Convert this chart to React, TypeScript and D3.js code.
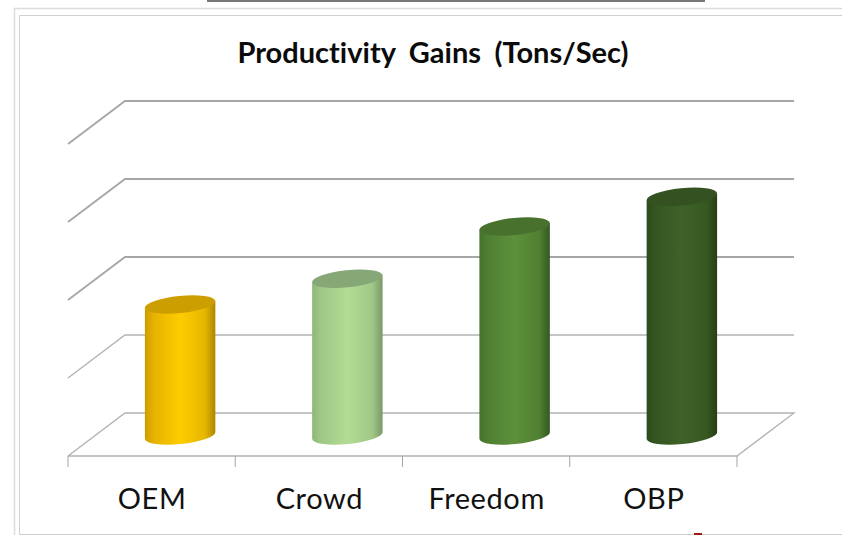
import React from "react";
import * as d3 from "d3";

const categories = ["OEM", "Crowd", "Freedom", "OBP"];
const gains = [1.68, 2.01, 2.68, 3.06];
const gridValues = [0, 1, 2, 3, 4];
const titleText = "Productivity Gains (Tons/Sec)";

// Side shading (left edge, centre, right edge) and cap colour per cylinder.
const sideLeft = ["#d09c00", "#8fb67a", "#44722c", "#2c4a1c"];
const sideMid = ["#ffcc00", "#b2dc94", "#5d903a", "#3e6227"];
const sideRight = ["#ad8500", "#7a9a68", "#33591f", "#273f16"];
const capFill = ["#cc9e00", "#86a776", "#47712c", "#345221"];

const W = 842;
const H = 535;
const depthX = 57;
const depthY = 43;
const floorLeft = 68;
const floorRight = 737;
const radiusX = 35.4;
const radiusY = 8.6;
const tiltDeg = -5.7;
const font = "Lato, 'Open Sans', sans-serif";

export default function App() {
  const y = d3.scaleLinear().domain([0, 4]).range([413, 101]);
  const x = d3.scaleBand<string>().domain(categories).range([floorLeft, floorRight]);
  const bw = x.bandwidth();
  const tickXs = [...categories.map((c) => x(c) as number), floorRight];
  const tilt = (tiltDeg * Math.PI) / 180;
  const dx = radiusX * Math.cos(tilt);
  const dy = radiusX * Math.sin(tilt);
  const midDepth = depthY / 2 + 1;

  return (
    <svg
      width={W}
      height={H}
      style={{ position: "absolute", left: 0, top: 0, display: "block", background: "#fff" }}
    >
      <defs>
        {categories.map((c, i) => (
          <linearGradient key={c} id={`side-${i}`} x1="0" x2="1" y1="0" y2="0">
            <stop offset="0" stopColor={sideLeft[i]} />
            <stop offset="0.12" stopColor={d3.interpolateRgb(sideLeft[i], sideMid[i])(0.45)} />
            <stop offset="0.5" stopColor={sideMid[i]} />
            <stop offset="0.85" stopColor={d3.interpolateRgb(sideMid[i], sideRight[i])(0.3)} />
            <stop offset="1" stopColor={sideRight[i]} />
          </linearGradient>
        ))}
      </defs>

      {/* slide frame */}
      <rect x={207} y={0} width={498} height={2} fill="#777" />
      <path d={`M842,8.5H14.5V535`} fill="none" stroke="#dcdcdc" strokeWidth={1.5} />
      <path d={`M842,15.5H19.5V534.5H842`} fill="none" stroke="#cfcfcf" strokeWidth={1} />
      <rect x={694} y={533} width={8} height={2} fill="#9c1c14" />

      {/* back and side walls */}
      {gridValues.map((v) => (
        <path
          key={v}
          d={
            v === 0
              ? `M${floorLeft},${y(v) + depthY}L${floorLeft + depthX},${y(v)}H${floorRight + depthX}L${floorRight},${y(v) + depthY}H${floorLeft}`
              : `M${floorLeft},${y(v) + depthY}L${floorLeft + depthX},${y(v)}H${floorRight + depthX}`
          }
          fill="none"
          stroke={v >= 2 ? "#a6a6a6" : "#b2b2b2"}
          strokeWidth={v >= 2 ? 1.8 : 1.3}
        />
      ))}

      {/* category ticks */}
      {tickXs.map((t) => (
        <line
          key={t}
          x1={t}
          x2={t}
          y1={y(0) + depthY}
          y2={y(0) + depthY + 11}
          stroke="#a5a5a5"
          strokeWidth={1}
        />
      ))}

      {/* cylinders */}
      {categories.map((c, i) => {
        const cx = (x(c) as number) + bw / 2 + depthX / 2;
        const baseY = y(0) + midDepth;
        const topY = y(gains[i]) + midDepth;
        const arc = `${radiusX},${radiusY} ${tiltDeg}`;
        return (
          <g key={c}>
            <path
              d={`M${cx - dx},${topY - dy}L${cx + dx},${topY + dy}L${cx + dx},${baseY + dy}A${arc} 0 1 ${cx - dx},${baseY - dy}Z`}
              fill={`url(#side-${i})`}
            />
            <ellipse
              cx={cx}
              cy={topY}
              rx={radiusX}
              ry={radiusY}
              transform={`rotate(${tiltDeg} ${cx} ${topY})`}
              fill={capFill[i]}
            />
          </g>
        );
      })}

      <text
        x={433}
        y={63}
        textAnchor="middle"
        fontFamily={font}
        fontWeight={700}
        fontSize={29}
        wordSpacing={6.5}
        fill="#0b0b0b"
        style={{ fontVariantLigatures: "none" }}
      >
        {titleText}
      </text>

      {categories.map((c) => (
        <text
          key={c}
          x={(x(c) as number) + bw / 2 + 0.5}
          y={509}
          textAnchor="middle"
          fontFamily={font}
          fontSize={29}
          letterSpacing={0.6}
          fill="#111"
        >
          {c}
        </text>
      ))}
    </svg>
  );
}
